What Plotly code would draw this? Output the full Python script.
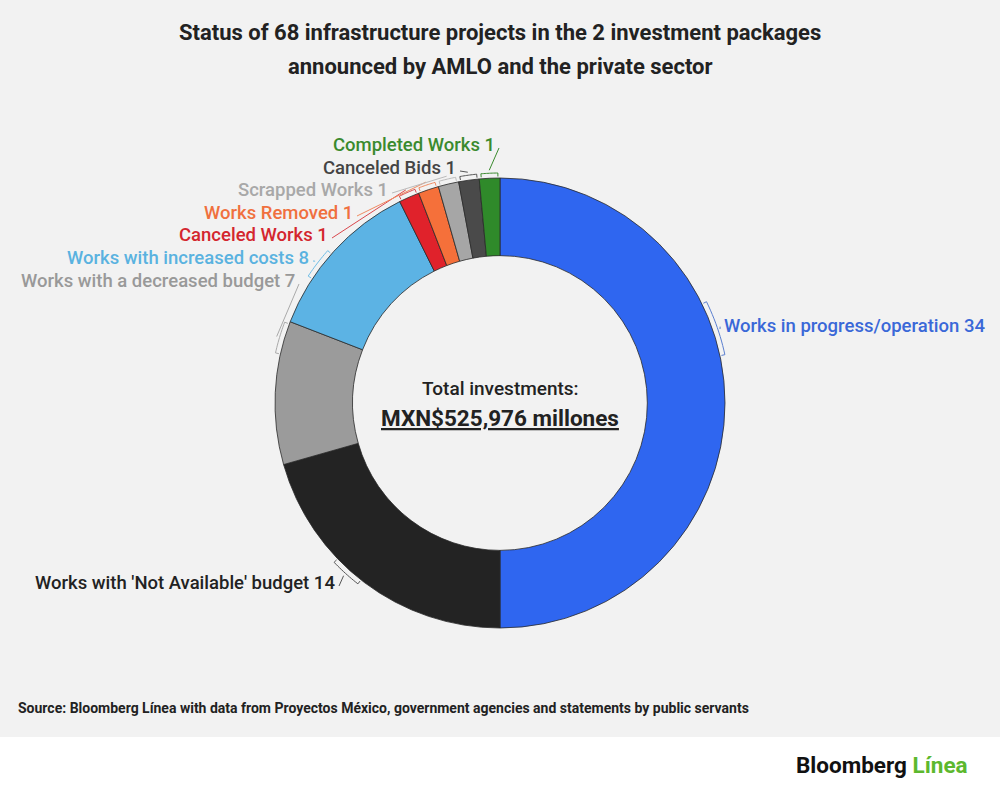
import math
import plotly.graph_objects as go

W, H = 1000, 793

# ---- data ----
categories = [
    "Works in progress/operation",
    "Works with 'Not Available' budget",
    "Works with a decreased budget",
    "Works with increased costs",
    "Canceled Works",
    "Works Removed",
    "Scrapped Works",
    "Canceled Bids",
    "Completed Works",
]
counts = [34, 14, 7, 8, 1, 1, 1, 1, 1]
slice_colors = ["#2f66f0", "#232323", "#9b9b9b", "#5cb3e4", "#e0222b",
                "#f5703a", "#a6a6a6", "#4a4a4a", "#2f8a2a"]
label_colors = ["#3a68d8", "#222222", "#999999", "#5ab2e0", "#d4262e",
                "#f0703e", "#a8a8a8", "#444444", "#3a8a2e"]
line_colors = ["#5a7fd0", "#555555", "#aaaaaa", "#6fbde6", "#d9474d",
               "#f08a60", "#bbbbbb", "#555555", "#3a8a2e"]

title_lines = ["Status of 68 infrastructure projects in the 2 investment packages",
               "announced by AMLO and the private sector"]
center_top = "Total investments:"
center_value = "MXN$525,976 millones"
source_text = ("Source: Bloomberg Línea with data from Proyectos México, "
               "government agencies and statements by public servants")

# ---- layout geometry (pixels) ----
CX, CY, R = 500, 403, 225
HOLE = 0.655
# label anchor: (x, y, side)
label_pos = [
    (722, 326, "left"),
    (337, 583, "right"),
    (297, 281, "right"),
    (311, 258, "right"),
    (330, 235, "right"),
    (355, 213, "right"),
    (390, 190, "right"),
    (458, 168, "right"),
    (497, 145, "right"),
]


def px(x):
    return x / W


def py(y):
    return 1 - y / H


def pt(r, ang):
    a = math.radians(ang)
    return CX + r * math.sin(a), CY - r * math.cos(a)


fig = go.Figure()
fig.add_trace(go.Pie(
    labels=categories, values=counts, sort=False, direction="clockwise",
    rotation=0, hole=HOLE, textinfo="none", hoverinfo="label+value",
    marker=dict(colors=slice_colors, line=dict(color="#2a2a2a", width=0.8)),
    domain=dict(x=[px(CX - R), px(CX + R)], y=[py(CY + R), py(CY - R)]),
    showlegend=False,
))

shapes = [
    dict(type="rect", xref="paper", yref="paper", x0=0, x1=1, y0=py(737), y1=1,
         fillcolor="#f2f2f2", line=dict(width=0), layer="below"),
]
annotations = []

total = sum(counts)
start = 0.0
for i, (cat, v) in enumerate(zip(categories, counts)):
    span = 360.0 * v / total
    a0, a1 = start, start + span
    start = a1
    lx, ly, side = label_pos[i]
    # label
    annotations.append(dict(
        xref="paper", yref="paper", x=px(lx), y=py(ly),
        xanchor="left" if side == "left" else "right", yanchor="middle",
        text=f"{cat} {v}", showarrow=False,
        font=dict(family="Roboto", size=18.5, weight=500, color=label_colors[i]),
    ))
    # bracket on the arc
    lang = math.degrees(math.atan2(lx - CX, -(ly - CY))) % 360
    pad = min(0.6, span * 0.1)
    half = min((span - 2 * pad) / 2, 7.0 if span > 90 else 4.0)
    mid = min(max(lang, a0 + pad + half), a1 - pad - half)
    b0, b1 = mid - half, mid + half
    rb = R + 5
    n = 12
    pts = [pt(R + 1.5, b0)] + [pt(rb, b0 + (b1 - b0) * k / n) for k in range(n + 1)] + [pt(R + 1.5, b1)]
    path = "M " + " L ".join(f"{px(x):.5f},{py(y):.5f}" for x, y in pts)
    col = line_colors[i]
    shapes.append(dict(type="path", xref="paper", yref="paper", path=path,
                       line=dict(color=col, width=1)))
    # connector from bracket midpoint to label
    mx, my = pt(rb + 3, mid)
    ax = lx - 2 if side == "left" else lx + 2
    ay = ly + 3
    cpath = f"M {px(mx):.5f},{py(my):.5f} L {px(ax):.5f},{py(ay):.5f}"
    shapes.append(dict(type="path", xref="paper", yref="paper", path=cpath,
                       line=dict(color=col, width=1)))

# title
for k, t in enumerate(title_lines):
    annotations.append(dict(
        xref="paper", yref="paper", x=0.5, y=py(33 + 34 * k), xanchor="center", yanchor="middle",
        text=f"<b>{t}</b>", showarrow=False,
        font=dict(family="Roboto", size=22, color="#222222"),
    ))
# center text
annotations.append(dict(
    xref="paper", yref="paper", x=px(CX), y=py(388), xanchor="center", yanchor="middle",
    text=center_top, showarrow=False,
    font=dict(family="Roboto", size=19, weight=500, color="#222222"),
))
annotations.append(dict(
    xref="paper", yref="paper", x=px(CX), y=py(418), xanchor="center", yanchor="middle",
    text=f"<b><u>{center_value}</u></b>", showarrow=False,
    font=dict(family="Roboto", size=22.5, color="#222222"),
))
# source
annotations.append(dict(
    xref="paper", yref="paper", x=px(16), y=py(708), xanchor="left", yanchor="middle",
    text=f"<b>{source_text}</b>", showarrow=False,
    font=dict(family="Roboto", size=14, color="#222222"),
))
# logo
annotations.append(dict(
    xref="paper", yref="paper", x=px(970), y=py(765), xanchor="right", yanchor="middle",
    text="<b>Bloomberg <span style='color:#5cb82e'>Línea</span></b>", showarrow=False,
    font=dict(family="Roboto", size=22.5, color="#111111"),
))

fig.update_layout(
    width=W, height=H, margin=dict(l=0, r=0, t=0, b=0),
    paper_bgcolor="#ffffff", plot_bgcolor="rgba(0,0,0,0)",
    shapes=shapes, annotations=annotations, showlegend=False,
)
fig.write_html("out.html", config={"displayModeBar": False},
               post_script="document.body.style.margin='0';document.body.style.overflow='hidden';")
